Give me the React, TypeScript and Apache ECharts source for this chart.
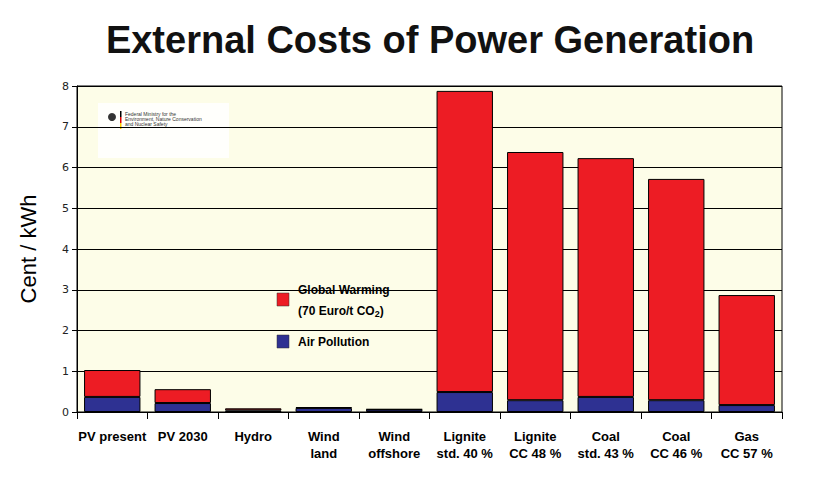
import React, { useEffect, useRef } from "react";
import * as echarts from "echarts";

const categories = [
  "PV present",
  "PV 2030",
  "Hydro",
  "Wind\nland",
  "Wind\noffshore",
  "Lignite\nstd. 40 %",
  "Lignite\nCC 48 %",
  "Coal\nstd. 43 %",
  "Coal\nCC 46 %",
  "Gas\nCC 57 %",
];
const airPollution = [0.37, 0.22, 0.04, 0.1, 0.06, 0.49, 0.29, 0.37, 0.29, 0.17];
const globalWarming = [0.66, 0.34, 0.05, 0.02, 0.01, 7.39, 6.09, 5.86, 5.43, 2.7];
const yTicks = [0, 1, 2, 3, 4, 5, 6, 7, 8];

const RED = "#ed1c24";
const BLUE = "#2e3192";
const CREAM = "#fdfde8";
const FONT = "Liberation Sans, Arial, sans-serif";

export default function App() {
  const ref = useRef<HTMLDivElement>(null);
  useEffect(() => {
    if (!ref.current) return;
    const chart = echarts.init(ref.current, undefined, { renderer: "svg" });
    chart.setOption({
      animation: false,
      backgroundColor: "#ffffff",
      title: {
        text: "External Costs of Power Generation",
        left: 425,
        top: 16,
        textAlign: "center",
        textStyle: { fontFamily: FONT, fontWeight: "bold", fontSize: 38, color: "#111" },
      },
      grid: {
        left: 77,
        right: 42,
        top: 86,
        bottom: 76,
        show: true,
        backgroundColor: CREAM,
        borderColor: "#000",
        borderWidth: 1,
      },
      xAxis: {
        type: "category",
        data: categories,
        axisLine: { lineStyle: { color: "#000", width: 1 } },
        axisTick: { show: true, length: 7, lineStyle: { color: "#000" } },
        axisLabel: {
          margin: 16,
          fontFamily: FONT,
          fontWeight: "bold",
          fontSize: 13,
          lineHeight: 17,
          color: "#000",
          interval: 0,
        },
      },
      yAxis: {
        type: "value",
        min: yTicks[0],
        max: yTicks[yTicks.length - 1],
        interval: 1,
        name: "Cent / kWh",
        nameLocation: "middle",
        nameGap: 38,
        nameTextStyle: { fontFamily: FONT, fontSize: 22, color: "#000" },
        axisLine: { show: true, lineStyle: { color: "#000" } },
        axisTick: { show: true, length: 5, lineStyle: { color: "#000" } },
        axisLabel: { fontFamily: "DejaVu Sans, sans-serif", fontSize: 11, color: "#222", margin: 8 },
        splitLine: { show: true, lineStyle: { color: "#000", width: 1 } },
      },
      series: [
        {
          name: "Air Pollution",
          type: "bar",
          stack: "total",
          data: airPollution,
          barWidth: "80%",
          itemStyle: { color: BLUE, borderColor: "#000", borderWidth: 1 },
        },
        {
          name: "Global Warming",
          type: "bar",
          stack: "total",
          data: globalWarming,
          barWidth: "80%",
          itemStyle: { color: RED, borderColor: "#000", borderWidth: 1 },
        },
      ],
      graphic: [
        // legend box
        { type: "rect", shape: { x: 262, y: 272, width: 150, height: 88 }, style: { fill: CREAM } },
        { type: "rect", shape: { x: 277, y: 293, width: 12, height: 13 }, style: { fill: RED, stroke: "#333", lineWidth: 0.5 } },
        { type: "rect", shape: { x: 277, y: 335, width: 12, height: 13 }, style: { fill: BLUE, stroke: "#333", lineWidth: 0.5 } },
        {
          type: "text",
          x: 298,
          y: 284,
          style: { text: "Global Warming", font: `bold 12px ${FONT}`, fill: "#000" },
        },
        {
          type: "text",
          x: 298,
          y: 303,
          style: {
            text: "(70 Euro/t CO{sub|2})",
            font: `bold 12px ${FONT}`,
            fill: "#000",
            rich: { sub: { fontSize: 9, fontWeight: "bold", fontFamily: FONT, verticalAlign: "bottom", padding: [6, 0, 0, 0] } },
          },
        },
        {
          type: "text",
          x: 298,
          y: 336,
          style: { text: "Air Pollution", font: `bold 12px ${FONT}`, fill: "#000" },
        },
        // logo
        { type: "rect", shape: { x: 98, y: 103, width: 131, height: 55 }, style: { fill: "#ffffff", opacity: 0.85 } },
        { type: "circle", shape: { cx: 112, cy: 117, r: 4 }, style: { fill: "#333" } },
        { type: "rect", shape: { x: 120, y: 111, width: 1.5, height: 6 }, style: { fill: "#000" } },
        { type: "rect", shape: { x: 120, y: 117, width: 1.5, height: 6 }, style: { fill: "#d00" } },
        { type: "rect", shape: { x: 120, y: 123, width: 1.5, height: 6 }, style: { fill: "#fc0" } },
        {
          type: "text",
          x: 125,
          y: 111,
          style: {
            text: "Federal Ministry for the\nEnvironment, Nature Conservation\nand Nuclear Safety",
            font: `5px ${FONT}`,
            lineHeight: 5,
            fill: "#333",
          },
        },
      ],
    });
    return () => chart.dispose();
  }, []);
  return <div ref={ref} style={{ position: "fixed", left: 0, top: 0, width: 824, height: 488 }} />;
}
